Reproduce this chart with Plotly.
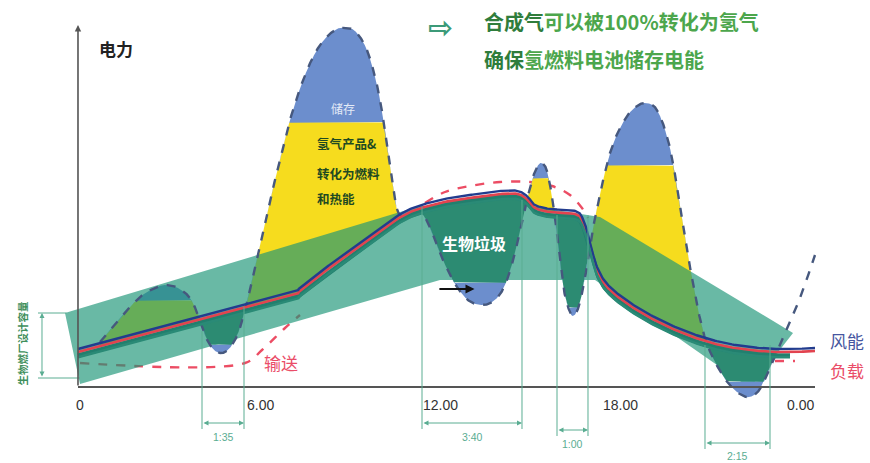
import numpy as np
import plotly.graph_objects as go

# ---------------- data (hour of day, relative power) ----------------
# wind generation curve
wind_h = [0.667, 1.333, 2.0, 2.5, 2.833, 3.267, 3.667, 3.933, 4.167, 4.4, 4.667, 4.933, 5.2, 5.433,
          5.667, 6.0, 6.5, 7.0, 7.5, 8.0, 8.5, 8.833, 9.167, 9.567, 9.9, 10.167, 10.4, 10.6,
          11.0, 11.4, 11.733, 12.067, 12.5, 12.933, 13.4, 13.833, 14.167, 14.467, 14.7, 14.9,
          15.067, 15.233, 15.367, 15.533, 15.667, 15.8, 15.933, 16.1, 16.267, 16.433, 16.633, 16.833, 17.0,
          17.167, 17.4, 17.667, 18.0, 18.4, 18.833, 19.233, 19.6, 19.867, 20.1, 20.333, 20.567, 20.833,
          21.167, 21.6, 22.0, 22.333, 22.667, 23.0, 23.333, 23.733, 24.1, 24.5]
wind_p = [10.25, 16.25, 21.5, 23.75, 24.5, 23.75, 21.25, 17.0, 12.0, 8.75, 7.5, 8.25, 11.25, 16.25,
          23.25, 34.5, 50.75, 65.75, 77.0, 84.5, 88.25, 88.75, 88.0, 83.25, 74.5, 63.25, 50.75, 42.75,
          41.75, 42.25, 37.75, 31.25, 24.75, 20.75, 19.5, 20.75, 24.5, 31.5, 39.5, 45.75,
          50.75, 54.0, 55.0, 53.75, 49.5, 43.25, 34.5, 24.5, 19.0, 16.75, 19.25, 26.25, 34.5,
          41.25, 49.5, 57.5, 63.75, 68.25, 70.0, 68.25, 60.75, 50.75, 39.5, 29.0, 19.5, 11.25,
          5.25, 0.0, -2.75, -3.5, -1.5, 3.75, 9.5, 16.25, 23.25, 32.0]

# load curve
load_h = [-0.067, 2.333, 4.667, 7.0, 7.333, 8.0, 9.0, 10.0, 10.933, 12.0, 13.0, 14.0, 14.6, 14.933,
          15.167, 15.667, 16.5, 16.767, 17.0, 17.233, 17.667, 18.667, 20.0, 21.333, 22.667, 23.667, 24.5]
load_p = [7.75, 12.5, 17.25, 21.75, 23.0, 27.0, 32.5, 38.0, 42.5, 45.0, 46.25, 47.25, 47.25, 45.75,
          43.75, 42.75, 42.25, 40.25, 34.5, 28.25, 23.25, 17.75, 12.75, 9.5, 8.0, 7.75, 8.0]

# biomass plant capacity band (outline)
band_h = [-0.5, 11.333, 15.0, 17.333, 23.767, 22.333, 17.167, 12.0, 0.0]
band_p = [17.5, 44.25, 44.25, 41.5, 12.5, -1.25, 25.75, 25.75, -0.25]

# transmission (输送) curve
supply_h = [0.0, 5.5, 6.067, 6.833, 7.333, None, 11.5, 12.167, 13.0, 14.0, 15.0, 15.733, 16.333,
            16.733, 16.933, None, 23.167, 23.833]
supply_p = [5.0, 5.0, 8.25, 13.75, 17.0, None, 45.0, 47.75, 49.25, 50.25, 50.25, 49.25, 47.0,
            43.75, 41.25, None, 5.5, 5.5]

# surplus / deficit lobes: start hour and storage split level of each lobe
lobe_start = [0.6, 4.0, 5.5, 10.8, 14.9, 15.85, 17.0, 20.9]
lobe_end = 23.2
split_level = [20.75, 9.5, 65.25, 25.0, 51.25, 18.75, 54.5, 0.25]

# time axis
tick_h = [0, 6, 12, 18, 24]
tick_text = ["0", "6.00", "12.00", "18.00", "0.00"]

# duration markers
dim_label = ["1:35", "3:40", "1:00", "2:15"]
dim_from = [4.067, 11.4, 15.9, 20.833]
dim_to = [5.467, 14.733, 16.933, 23.0]

# ---------------- styling / layout constants ----------------
AXIS_Y = -1.0
guide_top_l = [13.0, 44.0, 42.0, 9.5]
guide_top_r = [19.0, 45.75, 42.0, 9.5]
guide_arrow_y = [-10.0, -10.0, -11.75, -15.0]
guide_label_y = [-13.4, -13.4, -15.2, -18.2]

YELLOW = "#f6dc1e"
BLUE = "#6c8ecd"
TROUGH = "#2c8b72"
BAND = "rgba(28,148,118,0.66)"
GUIDE = "#5aad92"
CJK = "Noto Sans CJK SC"


def smooth(xs, ys, n=24):
    """Catmull-Rom pass through the control points (for drawing only)."""
    P = np.column_stack([xs, ys]).astype(float)
    P = np.vstack([P[0], P, P[-1]])
    t = np.linspace(0, 1, n, endpoint=False)[:, None]
    out = []
    for i in range(1, len(P) - 2):
        p0, p1, p2, p3 = P[i - 1], P[i], P[i + 1], P[i + 2]
        out.append(0.5 * (2 * p1 + (-p0 + p2) * t + (2 * p0 - 5 * p1 + 4 * p2 - p3) * t ** 2
                          + (-p0 + 3 * p1 - 3 * p2 + p3) * t ** 3))
    out.append(P[-2][None])
    S = np.vstack(out)
    S[:, 0] = np.maximum.accumulate(S[:, 0])
    return S[:, 0], S[:, 1]


wx, wy = smooth(wind_h, wind_p)
lx, ly = smooth(load_h, load_p)

xs = np.arange(wind_h[0], lobe_end, 0.004)
W = np.interp(xs, wx, wy)
L = np.interp(xs, lx, ly)
idx = np.clip(np.searchsorted(lobe_start, xs, side="right") - 1, 0, len(split_level) - 1)
lvl = np.array(split_level)[idx]
up = W > L

# surplus: yellow (conversion) below the split level, blue (storage) above
yel_hi = np.where(up, np.maximum(L, np.minimum(W, lvl)), L)
blu_lo = np.where(up, np.minimum(W, np.maximum(L, lvl)), L)
blu_hi = np.where(up, W, L)
# deficit: biomass fills down to the split level, storage below it
tr_lo = np.where(~up, np.minimum(L, np.maximum(W, lvl)), L)
bt_hi = np.where(~up, np.maximum(W, np.minimum(L, lvl)), L)
bt_lo = np.where(~up, W, L)


def poly(lo, hi, color):
    return go.Scatter(x=np.concatenate([xs, xs[::-1]]), y=np.concatenate([hi, lo[::-1]]),
                      fill="toself", fillcolor=color, mode="lines", line=dict(width=0),
                      hoverinfo="skip", showlegend=False)


fig = go.Figure()

# transmission curve (under everything)
fig.add_trace(go.Scatter(x=supply_h, y=supply_p, mode="lines", line_shape="spline",
                         line=dict(color="#ec4d64", width=2.4, dash="dash"),
                         hoverinfo="skip", showlegend=False))

# surplus fills
fig.add_trace(poly(L, yel_hi, YELLOW))
fig.add_trace(poly(blu_lo, blu_hi, BLUE))

# biomass capacity band
fig.add_trace(go.Scatter(x=band_h + band_h[:1], y=band_p + band_p[:1], fill="toself", fillcolor=BAND,
                         mode="lines", line=dict(width=0), hoverinfo="skip", showlegend=False))

# deficit fills
fig.add_trace(poly(tr_lo, L, TROUGH))
fig.add_trace(poly(bt_lo, bt_hi, BLUE))

# wind outline
fig.add_trace(go.Scatter(x=wx, y=wy, mode="lines", line=dict(color="#46587e", width=2.4, dash="dash"),
                         hoverinfo="skip", showlegend=False))

# load strands
lmask = lx <= 23.7
fig.add_trace(go.Scatter(x=lx[lmask], y=ly[lmask] - 0.9, mode="lines",
                         line=dict(color="#227f6e", width=4.5), hoverinfo="skip", showlegend=False))
fig.add_trace(go.Scatter(x=lx, y=ly, mode="lines", line=dict(color="#e2434f", width=2.6),
                         hoverinfo="skip", showlegend=False))
fig.add_trace(go.Scatter(x=lx, y=ly + 0.75, mode="lines", line=dict(color="#223c8e", width=2.4),
                         hoverinfo="skip", showlegend=False))
fig.add_trace(go.Scatter(x=lx[lmask], y=ly[lmask] - 1.3, mode="lines",
                         line=dict(color="#2a8a76", width=2.5), hoverinfo="skip", showlegend=False))

shapes = []
annotations = []

# axes
shapes.append(dict(type="line", xref="x", yref="y", x0=load_h[0], x1=24.5, y0=AXIS_Y, y1=AXIS_Y,
                    line=dict(color="#555", width=2)))
annotations.append(dict(x=load_h[0], y=89.5, ax=load_h[0], ay=AXIS_Y, xref="x", yref="y",
                        axref="x", ayref="y", text="", showarrow=True, arrowhead=2, arrowsize=0.8,
                        arrowwidth=1.6, arrowcolor="#555"))
for h, t in zip(tick_h, tick_text):
    annotations.append(dict(x=h, y=-5.6, xref="x", yref="y", text=t, showarrow=False,
                            font=dict(family="Liberation Sans Narrow, Liberation Sans", size=14,
                                      color="#333")))

# duration markers
for lab, a, b, tl, tr, ay, ly_ in zip(dim_label, dim_from, dim_to, guide_top_l, guide_top_r,
                                       guide_arrow_y, guide_label_y):
    shapes.append(dict(type="line", xref="x", yref="y", x0=a, x1=a, y0=tl, y1=ay - 1.5,
                        line=dict(color=GUIDE, width=1)))
    shapes.append(dict(type="line", xref="x", yref="y", x0=b, x1=b, y0=tr, y1=ay - 1.5,
                        line=dict(color=GUIDE, width=1)))
    annotations.append(dict(x=b, y=ay, ax=a, ay=ay, xref="x", yref="y", axref="x", ayref="y",
                            text="", showarrow=True, arrowhead=2, arrowside="end+start",
                            arrowsize=1, arrowwidth=1, arrowcolor=GUIDE))
    annotations.append(dict(x=(a + b) / 2, y=ly_, xref="x", yref="y", text=lab, showarrow=False,
                            font=dict(family="Liberation Sans", size=10.5, color=GUIDE)))

# plant design capacity bracket
shapes.append(dict(type="line", xref="x", yref="y", x0=-1.4, x1=-0.45, y0=17.5, y1=17.5,
                    line=dict(color=GUIDE, width=1)))
shapes.append(dict(type="line", xref="x", yref="y", x0=-1.4, x1=0.0, y0=1.25, y1=1.25,
                    line=dict(color=GUIDE, width=1)))
annotations.append(dict(x=-1.267, y=17.5, ax=-1.267, ay=1.25, xref="x", yref="y", axref="x",
                        ayref="y", text="", showarrow=True, arrowhead=2, arrowside="end+start",
                        arrowsize=1, arrowwidth=1, arrowcolor=GUIDE))
annotations.append(dict(x=-1.95, y=10.0, xref="x", yref="y", text="<b>生物燃厂设计容量</b>",
                        textangle=-90, showarrow=False,
                        font=dict(family=CJK, size=10.5, color="#3f8f5c")))

# text labels
annotations += [
    dict(x=0.55, y=83.75, xref="x", yref="y", text="<b>电力</b>", showarrow=False, xanchor="left",
         font=dict(family=CJK, size=17, color="#222")),
    dict(x=12.0, y=88.8, xref="x", yref="y", text="<b>⇨</b>", showarrow=False,
         font=dict(family="DejaVu Sans", size=30, color="#3c9a78")),
    dict(x=13.4, y=90.3, xref="x", yref="y", xanchor="left", showarrow=False,
         text="<b><span style='color:#2f7d3c'>合成气</span>可以被100%转化为氢气</b>",
         font=dict(family=CJK, size=20, color="#4ca64c")),
    dict(x=13.4, y=80.8, xref="x", yref="y", xanchor="left", showarrow=False,
         text="<b><span style='color:#2f7d3c'>确保</span>氢燃料电池储存电能</b>",
         font=dict(family=CJK, size=20, color="#4ca64c")),
    dict(x=8.75, y=68.75, xref="x", yref="y", text="储存", showarrow=False,
         font=dict(family=CJK, size=12, color="#e4ebf7")),
    dict(x=7.83, y=60.0, xref="x", yref="y", text="<b>氢气产品&</b>", showarrow=False, xanchor="left",
         font=dict(family=CJK, size=12.5, color="#1f4a22")),
    dict(x=7.83, y=52.5, xref="x", yref="y", text="<b>转化为燃料</b>", showarrow=False, xanchor="left",
         font=dict(family=CJK, size=12.5, color="#1f4a22")),
    dict(x=7.83, y=46.25, xref="x", yref="y", text="<b>和热能</b>", showarrow=False, xanchor="left",
         font=dict(family=CJK, size=12.5, color="#1f4a22")),
    dict(x=13.13, y=35.0, xref="x", yref="y", text="<b>生物垃圾</b>", showarrow=False,
         font=dict(family=CJK, size=16, color="#ffffff")),
    dict(x=13.15, y=23.5, ax=11.93, ay=23.5, xref="x", yref="y", axref="x", ayref="y", text="",
         showarrow=True, arrowhead=2, arrowsize=1, arrowwidth=1.8, arrowcolor="#111"),
    dict(x=6.07, y=5.25, xref="x", yref="y", text="输送", showarrow=False, xanchor="left",
         font=dict(family=CJK, size=17, color="#ea4d68")),
    dict(x=25.57, y=10.75, xref="x", yref="y", text="风能", showarrow=False,
         font=dict(family=CJK, size=17, color="#4656a0")),
    dict(x=25.57, y=3.25, xref="x", yref="y", text="负载", showarrow=False,
         font=dict(family=CJK, size=17, color="#ea4d68")),
]

fig.update_layout(
    width=870, height=463, margin=dict(l=0, r=0, t=0, b=0),
    paper_bgcolor="white", plot_bgcolor="white",
    xaxis=dict(range=[-80 / 30, 790 / 30], visible=False, fixedrange=True),
    yaxis=dict(range=[-20, 95.75], visible=False, fixedrange=True),
    shapes=shapes, annotations=annotations, showlegend=False,
)

fig.write_html("out.html")
